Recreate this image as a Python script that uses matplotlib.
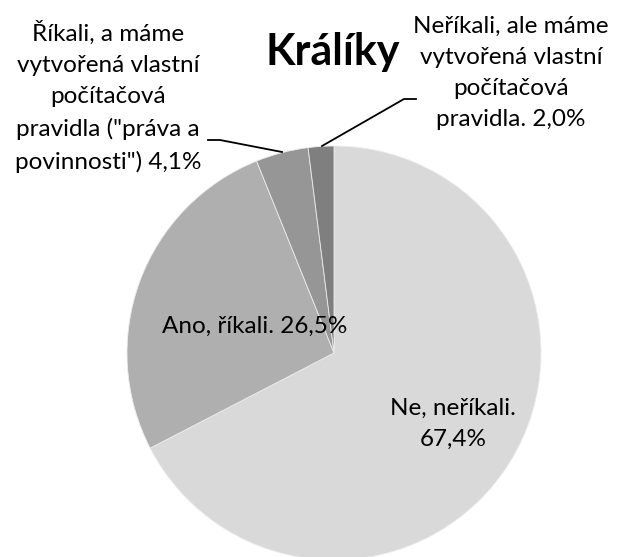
import matplotlib
matplotlib.use("Agg")
import matplotlib.pyplot as plt

title = "Králíky"
categories = [
    "Ne, neříkali.",
    "Ano, říkali.",
    "Říkali, a máme\nvytvořená vlastní\npočítačová\npravidla (\"práva a\npovinnosti\")",
    "Neříkali, ale máme\nvytvořená vlastní\npočítačová\npravidla.",
]
values = [67.4, 26.5, 4.1, 2.0]
value_labels = ["67,4%", "26,5%", "4,1%", "2,0%"]
colors = ["#d9d9d9", "#afafaf", "#969696", "#7f7f7f"]

plt.rcParams['font.family'] = ['Lato', 'DejaVu Sans']

W, H = 622, 557
fig = plt.figure(figsize=(W / 100, H / 100), dpi=100)
fig.patch.set_facecolor("white")

cx, cy, r = 334, 353, 207
ax = fig.add_axes([(cx - r) / W, (H - cy - r) / H, 2 * r / W, 2 * r / H])
ax.pie(values, colors=colors, startangle=90, counterclock=False,
       wedgeprops=dict(edgecolor="#ececec", linewidth=0.6))
ax.set_xlim(-1, 1)
ax.set_ylim(-1, 1)
ax.axis("off")


def d(px, py):
    return ((px - cx) / r, (cy - py) / r)


fs = 17.5
ls = 1.6
# title
fig.text(333 / W, 1 - 52 / H, title, ha="center", va="center",
         fontsize=31, fontweight="bold", color="black")

# inside labels
x, y = d(453, 424)
ax.text(x, y, categories[0] + "\n" + value_labels[0], ha="center", va="center",
        fontsize=fs, linespacing=ls)
x, y = d(255, 326)
ax.text(x, y, categories[1] + " " + value_labels[1], ha="center", va="center",
        fontsize=fs)

# outside labels
x, y = d(108, 97)
ax.text(x, y, categories[2] + " " + value_labels[2], ha="center", va="center",
        fontsize=fs, linespacing=ls)
x, y = d(511, 73)
ax.text(x, y, categories[3] + " " + value_labels[3], ha="center", va="center",
        fontsize=fs, linespacing=ls)

# leader lines
pts = [d(208, 140), d(220, 140), d(282, 152)]
ax.plot([p[0] for p in pts], [p[1] for p in pts], color="black", lw=1.3, clip_on=False)
pts = [d(416, 99), d(404, 99), d(322, 146)]
ax.plot([p[0] for p in pts], [p[1] for p in pts], color="black", lw=1.3, clip_on=False)

fig.savefig("out.png", dpi=100, facecolor="white")
